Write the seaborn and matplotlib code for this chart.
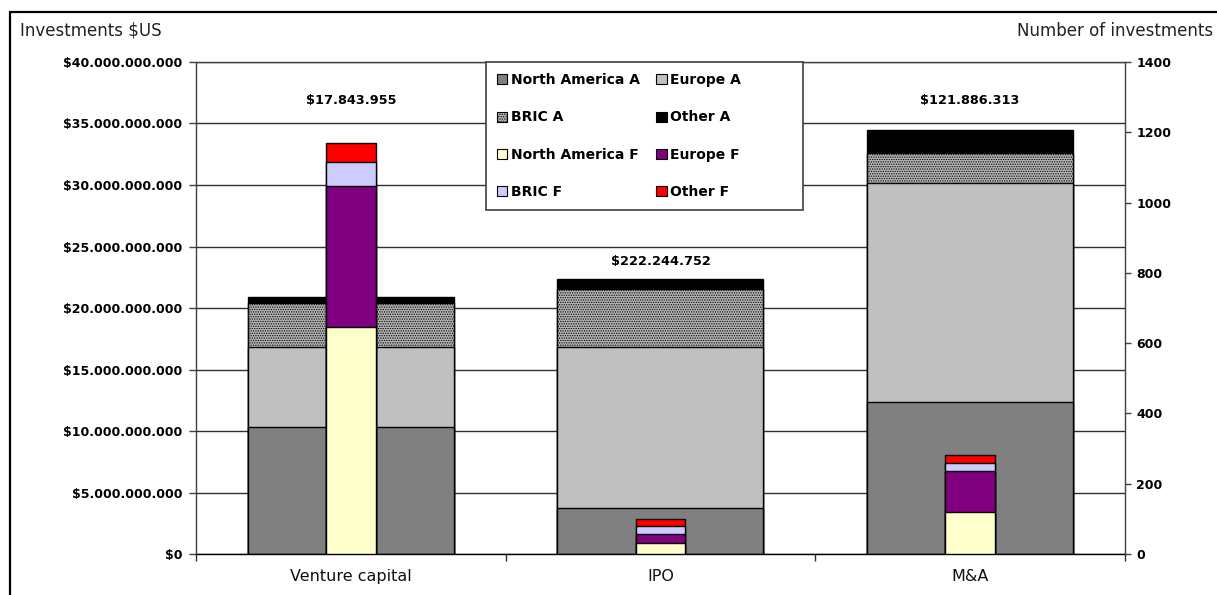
import matplotlib
matplotlib.use("Agg")
import matplotlib.pyplot as plt
import numpy as np
import seaborn as sns
from matplotlib.patches import Patch, Rectangle
from matplotlib.lines import Line2D

# ---- data -------------------------------------------------------------
categories = ["Venture capital", "IPO", "M&A"]

# Investments in $US (left axis), stacked by region
north_america_a = [10_330_000_000, 3_700_000_000, 12_330_000_000]
europe_a = [6_500_000_000, 13_100_000_000, 17_800_000_000]
bric_a = [3_600_000_000, 4_740_000_000, 2_490_000_000]
other_a = [490_000_000, 790_000_000, 1_840_000_000]

# Number of investments (right axis), stacked by region
north_america_f = [645, 30, 120]
europe_f = [402, 28, 117]
bric_f = [69, 22, 21]
other_f = [54, 19, 24]

# Average deal size printed above each group
avg_labels = ["$17.843.955", "$222.244.752", "$121.886.313"]
avg_label_y = [36.9e9, 23.8e9, 36.9e9]

left_ticks = list(range(0, 40_000_000_001, 5_000_000_000))
right_ticks = list(range(0, 1401, 200))

# ---- style ------------------------------------------------------------
sns.set_theme(style="white")
plt.rcParams["font.family"] = ["DejaVu Sans"]
plt.rcParams["text.color"] = "black"
plt.rcParams["hatch.linewidth"] = 0.6

a_names = ["North America A", "Europe A", "BRIC A", "Other A"]
a_colors = ["#808080", "#c0c0c0", "#b4b4b4", "#000000"]
a_hatches = [None, None, ".......", None]
f_names = ["North America F", "Europe F", "BRIC F", "Other F"]
f_colors = ["#ffffcc", "#800080", "#ccccff", "#ff0000"]
f_hatches = [None, None, None, None]

fig = plt.figure(figsize=(12.17, 5.95), dpi=100)
ax = fig.add_axes([0.161, 0.0689, 0.7634, 0.8269])
ax2 = ax.twinx()


def draw_stack(axis, series, colors, hatches, width):
    """Stacked bars drawn as overlapping cumulative bars, top segment first."""
    cum = np.cumsum(np.array(series, dtype=float), axis=0)
    for i in range(len(series) - 1, -1, -1):
        sns.barplot(x=categories, y=cum[i], color=colors[i], hatch=hatches[i],
                    width=width, saturation=1, edgecolor="black", linewidth=1.0,
                    errorbar=None, ax=axis)


draw_stack(ax, [north_america_a, europe_a, bric_a, other_a], a_colors, a_hatches, 0.665)
draw_stack(ax2, [north_america_f, europe_f, bric_f, other_f], f_colors, f_hatches, 0.161)

# ---- left axis ----------------------------------------------------------
ax.set_xlim(-0.5, 2.5)
ax.set_ylim(0, 40_000_000_000)
ax.set_yticks(left_ticks,
              labels=["$" + f"{v:,.0f}".replace(",", ".") for v in left_ticks],
              fontweight="bold", fontsize=9)
ax.set_axisbelow(True)
ax.yaxis.grid(True, color="#303030", linewidth=1.0)
ax.xaxis.grid(False)
ax.tick_params(axis="y", left=True, direction="out", length=5, width=1,
               color="#404040", pad=5, labelcolor="black")
ax.set_xticks(range(len(categories)), labels=categories, fontsize=11.5,
              color="#111111")
ax.set_xticks([-0.5, 0.5, 1.5, 2.5], minor=True)
ax.tick_params(axis="x", which="major", bottom=False, length=0, pad=11)
ax.tick_params(axis="x", which="minor", bottom=True, direction="out",
               length=5, width=1, color="#303030")
ax.set_xlabel("")
ax.set_ylabel("")
for side in ["left", "top"]:
    ax.spines[side].set_color("#404040")
    ax.spines[side].set_linewidth(1.0)
ax.spines["bottom"].set_color("black")
ax.spines["bottom"].set_linewidth(1.0)
ax.spines["right"].set_visible(False)

# ---- right axis ---------------------------------------------------------
ax2.set_ylim(0, 1400)
ax2.set_yticks(right_ticks, labels=[str(v) for v in right_ticks],
               fontweight="bold", fontsize=9)
ax2.tick_params(axis="y", right=True, direction="out", length=4, width=1,
                color="#404040", pad=4, labelcolor="black")
ax2.set_ylabel("")
ax2.set_xlabel("")
for side in ["left", "top", "bottom"]:
    ax2.spines[side].set_visible(False)
ax2.spines["right"].set_color("#404040")
ax2.spines["right"].set_linewidth(1.0)
ax2.set_xlim(-0.5, 2.5)

# ---- average deal size labels --------------------------------------------
for i, (txt, y) in enumerate(zip(avg_labels, avg_label_y)):
    ax.text(i, y, txt, ha="center", va="center", fontsize=9.3,
            fontweight="bold", color="black")

# ---- legend (row-major order in two columns) -------------------------------
def handle(color, hatch):
    return Patch(facecolor=color, edgecolor="black", hatch=hatch, linewidth=0.8)

col1 = [(a_names[0], a_colors[0], a_hatches[0]), (a_names[2], a_colors[2], a_hatches[2]),
        (f_names[0], f_colors[0], None), (f_names[2], f_colors[2], None)]
col2 = [(a_names[1], a_colors[1], a_hatches[1]), (a_names[3], a_colors[3], a_hatches[3]),
        (f_names[1], f_colors[1], None), (f_names[3], f_colors[3], None)]
entries = col1 + col2

# legend box
box = Rectangle((0.312, 0.699), 0.341, 0.301, transform=ax2.transAxes,
                facecolor="white", edgecolor="#404040", linewidth=1.2,
                zorder=4, clip_on=False)
ax2.add_patch(box)
leg = ax2.legend([handle(c, h) for _, c, h in entries], [n for n, _, _ in entries],
                 ncol=2, loc="upper left", bbox_to_anchor=(0.312, 1.0),
                 borderaxespad=0, frameon=False,
                 handlelength=0.75, handleheight=0.75,
                 handletextpad=0.25, columnspacing=1.2, labelspacing=1.68,
                 borderpad=0.8, labelcolor="black",
                 prop={"weight": "bold", "size": 10})
leg.set_zorder(5)

# ---- headings ------------------------------------------------------------
fig.text(20 / 1217, 1 - 30 / 595, "Investments $US", ha="left", va="center",
         fontsize=12, color="#222222")
fig.text(1213 / 1217, 1 - 31 / 595, "Number of investments", ha="right",
         va="center", fontsize=12, color="#222222")

# chart-area frame
fig.add_artist(Line2D([10 / 1217, 10 / 1217], [0, 1 - 12 / 595],
                      transform=fig.transFigure, color="black", linewidth=1.6))
fig.add_artist(Line2D([10 / 1217, 1], [1 - 12 / 595, 1 - 12 / 595],
                      transform=fig.transFigure, color="black", linewidth=1.6))

fig.savefig("out.png", dpi=100)
